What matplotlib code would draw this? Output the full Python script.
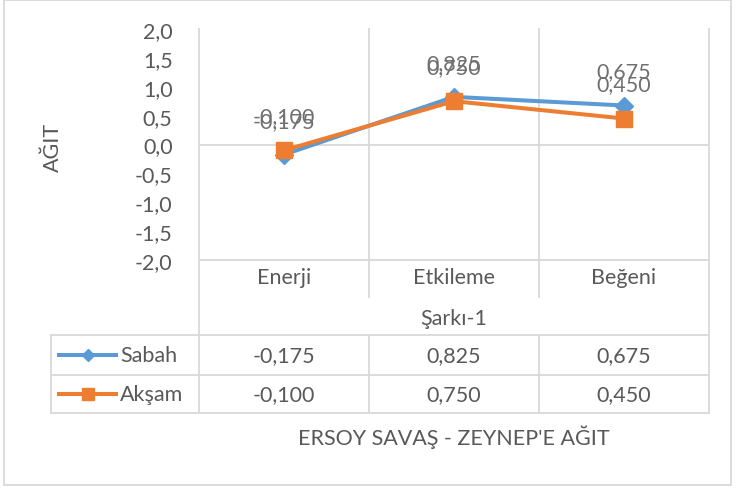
import matplotlib
matplotlib.use('Agg')
import matplotlib.pyplot as plt
from matplotlib.patches import Rectangle

# ---- data ----
categories = ['Enerji', 'Etkileme', 'Beğeni']
group_label = 'Şarkı-1'
series_names = ['Sabah', 'Akşam']
sabah = [-0.175, 0.825, 0.675]
aksam = [-0.100, 0.750, 0.450]
y_ticks = [-2.0, -1.5, -1.0, -0.5, 0.0, 0.5, 1.0, 1.5, 2.0]
y_label = 'AĞIT'
x_title = "ERSOY SAVAŞ - ZEYNEP'E AĞIT"

# ---- style ----
plt.rcParams['font.family'] = ['Lato', 'DejaVu Sans']
FS = 15.5
TXT = '#595959'
LBL = '#707070'
GRID = '#d9d9d9'
colors = ['#5B9BD5', '#ED7D31']
markers = ['D', 's']
msizes = [9, 11.5]
leg_msizes = [6, 8.5]


def fmt(v, d):
    return f"{v:.{d}f}".replace('.', ',')


fig = plt.figure(figsize=(7.36, 4.89), dpi=100)
ov = fig.add_axes([0, 0, 1, 1])
ov.set_xlim(0, 736)
ov.set_ylim(489, 0)
ov.axis('off')

ax = fig.add_axes([199 / 736, 1 - 261 / 489, 510 / 736, 231 / 489])
ax.patch.set_alpha(0)
xs = list(range(len(categories)))
ax.set_xlim(-0.5, len(categories) - 0.5)
ax.set_ylim(y_ticks[0], y_ticks[-1])
for s in ax.spines.values():
    s.set_visible(False)

# gridlines
for b in [i - 0.5 for i in range(len(categories) + 1)]:
    ax.axvline(b, color=GRID, lw=1.3, clip_on=False, zorder=0)
ax.axhline(0, color=GRID, lw=1.3, zorder=0)
ax.axhline(y_ticks[0], color=GRID, lw=1.3, clip_on=False, zorder=0)

series = [sabah, aksam]
for vals, c, m, ms in zip(series, colors, markers, msizes):
    ax.plot(xs, vals, color=c, lw=2.9, marker=m, markersize=ms,
            markeredgecolor=c, markerfacecolor=c, clip_on=False, zorder=3)
for vals in series:
    for x, v in zip(xs, vals):
        ax.annotate(fmt(v, 3), (x, v), xytext=(0, 34), textcoords='offset pixels',
                    ha='center', va='center', color=LBL, fontsize=FS, zorder=4)

ax.set_xticks([])
ax.set_yticks(y_ticks)
ax.set_yticklabels([fmt(t, 1) for t in y_ticks])
ax.tick_params(axis='y', length=0, pad=19, labelcolor=TXT, labelsize=FS)

# ---- frame ----
ov.add_patch(Rectangle((4, 1), 727, 485, fill=False, ec=GRID, lw=1.3))

# ---- data table ----
def xpx(d):
    return ax.transData.transform((d, 0))[0]

bounds = [xpx(i - 0.5) for i in range(len(categories) + 1)]
centers = [xpx(i) for i in xs]
tbl_left = 51
y_sep_end, row_top, row_mid, row_bot = 298, 336, 376, 414
row_centers = [356, 395]

for y in [row_top, row_mid, row_bot]:
    ov.plot([tbl_left, bounds[-1]], [y, y], color=GRID, lw=1.3)
ov.plot([tbl_left, tbl_left], [row_top, row_bot], color=GRID, lw=1.3)
for i, bx in enumerate(bounds):
    if i in (0, len(bounds) - 1):
        ov.plot([bx, bx], [261, row_bot], color=GRID, lw=1.3)
    else:
        ov.plot([bx, bx], [261, y_sep_end], color=GRID, lw=1.3)
        ov.plot([bx, bx], [row_top, row_bot], color=GRID, lw=1.3)

for cx, cat in zip(centers, categories):
    ov.text(cx, 278, cat, ha='center', va='center', color=TXT, fontsize=FS)
ov.text((bounds[0] + bounds[-1]) / 2, 319, group_label, ha='center', va='center',
        color=TXT, fontsize=FS)

for yc, name, vals, c, m, ms in zip(row_centers, series_names, series, colors,
                                   markers, leg_msizes):
    ov.plot([59, 116], [yc, yc], color=c, lw=2.9)
    ov.plot([88], [yc], marker=m, color=c, markersize=ms)
    ov.text(120, yc, name, ha='left', va='center', color=TXT, fontsize=FS)
    for cx, v in zip(centers, vals):
        ov.text(cx, yc, fmt(v, 3), ha='center', va='center', color=TXT, fontsize=FS)

ov.text((bounds[0] + bounds[-1]) / 2, 437, x_title, ha='center', va='center',
        color=TXT, fontsize=FS)
ov.text(53, 147, y_label, rotation=90, ha='center', va='center', color=TXT, fontsize=FS)

fig.savefig('out.png', dpi=100)
